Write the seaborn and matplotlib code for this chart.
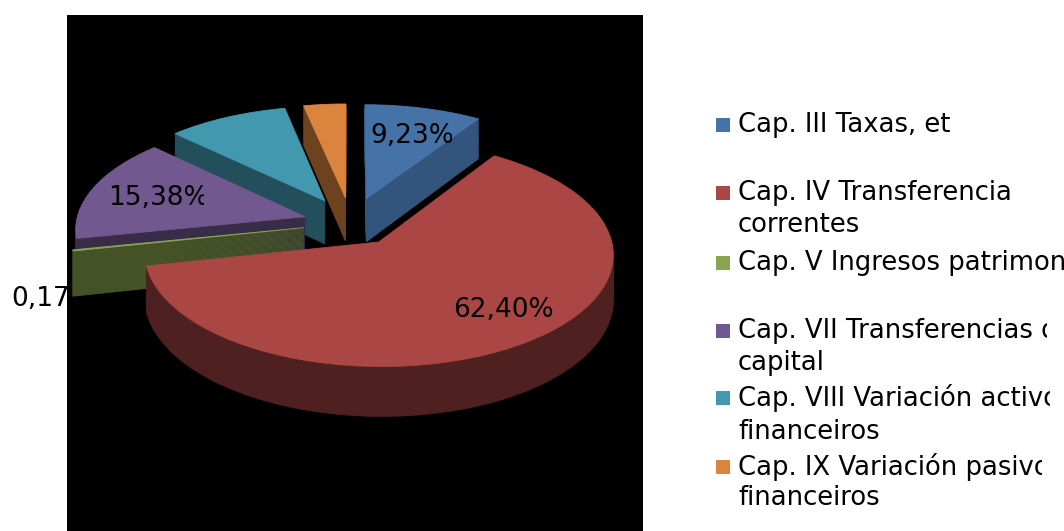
import numpy as np
import matplotlib
matplotlib.use('Agg')
import matplotlib.pyplot as plt
import seaborn as sns
from matplotlib.patches import PathPatch, Rectangle
from matplotlib.path import Path

# slices, clockwise from 12 o'clock
categories = ['Cap. III Taxas, et', 'Cap. IV Transferencia\ncorrentes', 'Cap. V Ingresos patrimoniais',
              'Cap. VII Transferencias de\ncapital', 'Cap. VIII Variación activos\nfinanceiros',
              'Cap. IX Variación pasivos\nfinanceiros']
values = [9.23, 62.40, 0.17, 15.38, 9.50, 3.32]
value_labels = ['9,23%', '62,40%', '0,17%', '15,38%']
colors = ['#4572A7', '#AA4643', '#89A54E', '#71588F', '#4198AF', '#DB843D']

# pie geometry in pixels
cx, cy = 351, 223
rx, ry = 229, 108
persp = 0.10
depth = 44
side_dark = [0.74, 0.46, 0.5, 0.5, 0.52, 0.5]
explode = [0.24, 0.21, 0.21, 0.21, 0.24, 0.24]


def project(verts, z=0.0):
    # squash the flat pie into a tilted disc, back edge smaller than the front
    s = 1 / (1 + persp * verts[:, 1])
    px = cx + rx * verts[:, 0] * s
    py = cy - ry * verts[:, 1] * s + depth * z * s
    return np.column_stack([px, py])


sns.set_theme(style='white')
palette = sns.color_palette(colors)

fig = plt.figure(figsize=(10.64, 5.31), dpi=100, facecolor='white')
ax = fig.add_axes([0, 0, 1, 1])

wedges, _ = ax.pie(values, colors=palette, startangle=90, counterclock=False,
                   explode=explode, radius=1)
paths = [w.get_path() for w in wedges]
for w in wedges:
    w.remove()

ax.set_aspect('auto')
ax.set_xlim(0, 1064)
ax.set_ylim(531, 0)
ax.axis('off')

ax.add_patch(Rectangle((67, 15), 576, 516, fc='black', ec='none', zorder=0))

# back slices first, the big red one ends up on top
draw_order = [5, 4, 0, 3, 2, 1]
z_level = 1
for i in draw_order:
    base = np.array(palette[i])
    side = tuple(base * side_dark[i])
    for z in np.linspace(1, 0.02, 40):
        patch = PathPatch(Path(project(paths[i].vertices, z), paths[i].codes),
                          fc=side, ec=side, lw=0.6, zorder=z_level)
        ax.add_patch(patch)
    top = PathPatch(Path(project(paths[i].vertices), paths[i].codes),
                    fc=palette[i], ec=palette[i], lw=0.6, zorder=z_level)
    ax.add_patch(top)
    z_level += 1


def clipped_text(x, y, s, size, right=1064, left=0):
    t = ax.text(x, y, s, fontsize=size, color='black', va='center', ha='left', zorder=20)
    t.set_clip_path(Rectangle((left, 0), right - left, 531, transform=ax.transData))
    t.set_clip_on(True)
    return t


# data labels, cut off like in the original
clipped_text(370, 136, value_labels[0], 19, right=452)
clipped_text(453, 310, value_labels[1], 19)
clipped_text(11, 299, value_labels[2], 19, right=67)
clipped_text(108, 198, value_labels[3], 19, right=204)

# legend
legend_y = [125, 193, 263, 331, 398, 467]
legend_clip = [1064, 1064, 1064, 1047, 1050, 1042]
second_y = {1: 225, 3: 363, 4: 432, 5: 498}
for i, name in enumerate(categories):
    ax.add_patch(Rectangle((716, legend_y[i] - 7), 14, 14, fc=palette[i], ec='none', zorder=20))
    parts = name.split('\n')
    clipped_text(738, legend_y[i], parts[0], 18.6, right=legend_clip[i])
    if len(parts) > 1:
        clipped_text(738, second_y[i], parts[1], 18.6)

fig.savefig('out.png', dpi=100, facecolor='white')
